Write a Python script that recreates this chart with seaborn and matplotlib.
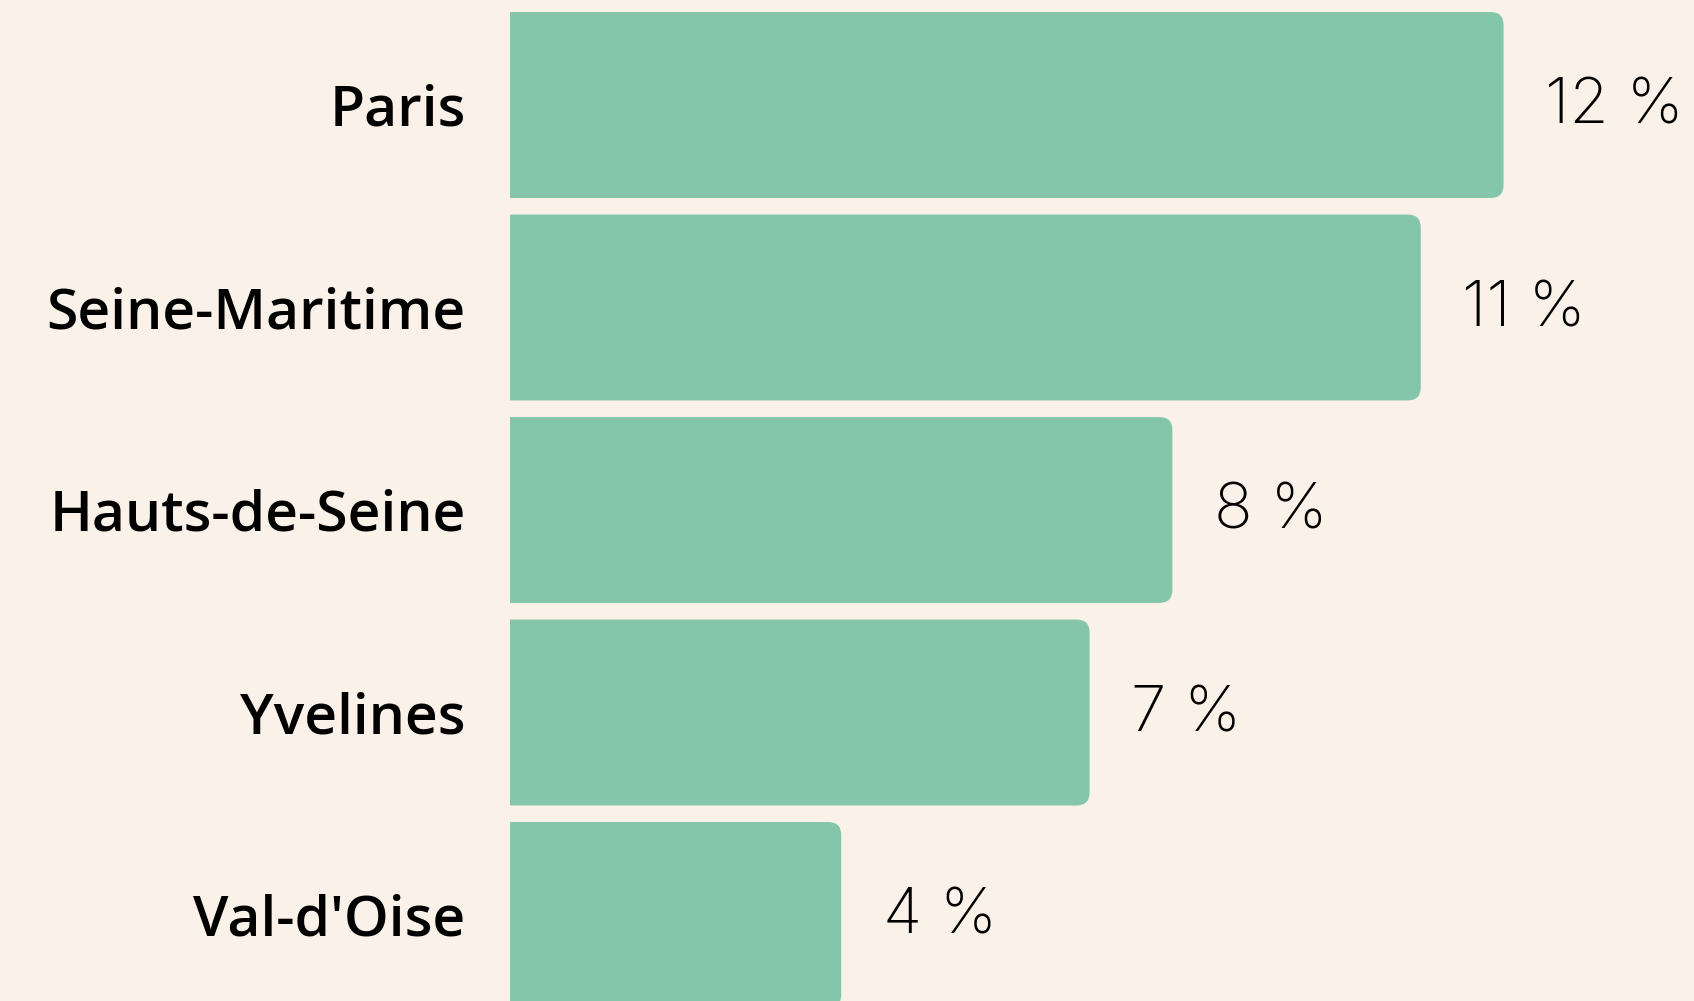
import matplotlib
matplotlib.use("Agg")
import matplotlib.pyplot as plt
import seaborn as sns
from matplotlib.patches import FancyBboxPatch

# data
departements = ["Paris", "Seine-Maritime", "Hauts-de-Seine", "Yvelines", "Val-d'Oise"]
parts = [12, 11, 8, 7, 4]
etiquettes = ["12 %", "11 %", "8 %", "7 %", "4 %"]

bg = "#FAF1E8"
bar_color = "#84C6AA"

sns.set_style("white")
plt.rcParams["font.family"] = ["Inter", "DejaVu Sans"]

fig = plt.figure(figsize=(16.94, 10.01), dpi=100, facecolor=bg)
ax = fig.add_axes([510 / 1694, 0, 1 - 510 / 1694, 1])
ax.set_facecolor(bg)

sns.barplot(x=parts, y=departements, color=bar_color, width=0.918,
            saturation=1, ax=ax)

ax.set_xlim(0, 14.30)
ax.set_ylim(4.4247, -0.5185)

# rounded right corners: swap each bar for a rounded box
px_x = ax.get_window_extent().width / (14.30 - 0)
px_y = ax.get_window_extent().height / (4.4247 + 0.5185)
radius = 13 / px_x
for p in list(ax.patches):
    x0, y0 = p.get_x(), p.get_y()
    w, h = p.get_width(), p.get_height()
    p.remove()
    ax.add_patch(FancyBboxPatch((x0 - 1, y0), w + 1, h,
                                boxstyle=f"round,pad=0,rounding_size={radius}",
                                mutation_aspect=px_x / px_y,
                                facecolor=bar_color, edgecolor="none"))

# value labels
for i, (v, t) in enumerate(zip(parts, etiquettes)):
    ax.text(v + 0.5, i + 0.01, t, ha="left", va="center",
            fontsize=46, fontweight="light", color="#000000")

ax.tick_params(axis="y", length=0, pad=32, labelsize=41, labelcolor="#000000")
for lab in ax.get_yticklabels():
    lab.set_family(["Open Sans", "DejaVu Sans"])
    lab.set_fontweight("semibold")
ax.set_xticks([])
ax.set_xlabel("")
ax.set_ylabel("")
sns.despine(ax=ax, left=True, bottom=True)

fig.savefig("out.png", dpi=100, facecolor=bg)
